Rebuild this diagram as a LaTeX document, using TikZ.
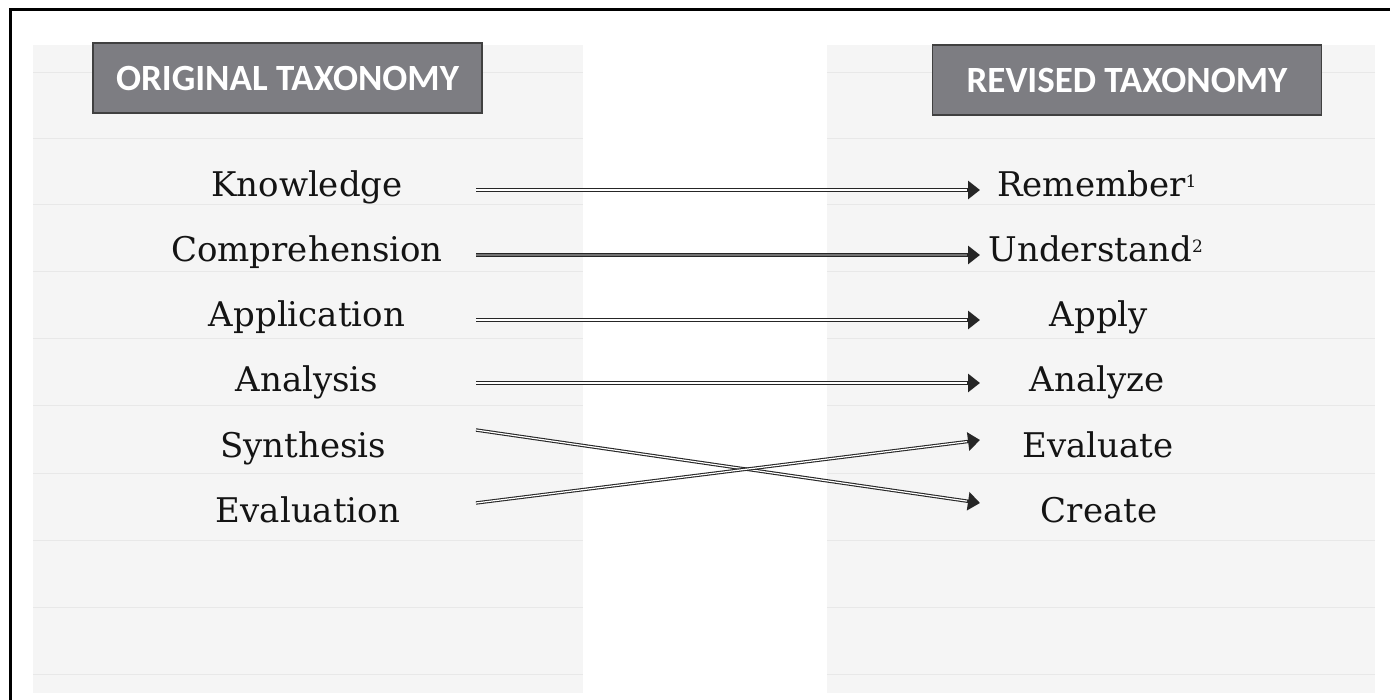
\documentclass[tikz,border=0pt]{standalone}
\usepackage{fontspec}
\setmainfont{DejaVu Serif}
\newfontfamily\headfont{Carlito}
\usetikzlibrary{arrows.meta,calc}

\newcommand\supnum[1]{\textsuperscript{\fontsize{17}{17}\selectfont #1}}

\begin{document}
\begin{tikzpicture}[x=1pt,y=-1pt,
  panel/.style={fill=black!4},
  ruling/.style={draw=black!9,line width=1pt},
  headbox/.style={fill=black!50!white!98!blue,draw=black!75,line width=1.5pt,
    minimum width=389pt,minimum height=70pt,inner sep=0pt,
    text=white,font=\headfont\bfseries\fontsize{37}{40}\selectfont},
  term/.style={anchor=base,inner sep=0pt,font=\fontsize{34}{38}\selectfont,text=black!92},
  arr/.style={draw=black!85,line width=3.4pt,
    -{Triangle[length=12pt,width=18pt]},
    postaction={draw=white,line width=1.2pt,shorten >=13pt,-}},
  grayarr/.style={arr,postaction={draw=black!55,line width=1.6pt,shorten >=13pt,-}}]
  \useasboundingbox (0,0) rectangle (1390,700);
  \fill[white] (0,0) rectangle (1390,700);
  % panels
  \fill[panel] (33,45) rectangle (583,693);
  \fill[panel] (827,45) rectangle (1375,693);
  \foreach \y in {73,139,205,272,339,406,473,540,607,674}{
    \draw[ruling] (33,\y) -- (583,\y);
    \draw[ruling] (827,\y) -- (1375,\y);
  }
  % frame
  \draw[line width=3pt] (1390,10) -| (10,700);
  % headings
  \node[headbox] (orig) at (287.5,78) {ORIGINAL TAXONOMY};
  \node[headbox] (rev) at (1127,80) {REVISED TAXONOMY};
  % original terms
  \node[term] (kn) at (307,197) {Knowledge};
  \node[term] (co) at (307,262) {Comprehension};
  \node[term] (ap) at (307,327) {Application};
  \node[term] (an) at (307,392) {Analysis};
  \node[term] (sy) at (303,457) {Synthesis};
  \node[term] (ev) at (308,522) {Evaluation};
  % revised terms
  \node[term] (re) at (1097,197) {Remember\supnum{1}};
  \node[term] (un) at (1096,262) {Understand\supnum{2}};
  \node[term] (apl) at (1099,327) {Apply};
  \node[term] (anz) at (1097,392) {Analyze};
  \node[term] (eva) at (1098,457) {Evaluate};
  \node[term] (cr) at (1099,522) {Create};
  % arrow ends
  \coordinate (xs) at (476,0);
  \coordinate (xe) at (980,0);
  \draw[arr] ($(xs |- kn.base)+(0,-7)$) -- ($(xe |- re.base)+(0,-7)$);
  \draw[grayarr] ($(xs |- co.base)+(0,-7)$) -- ($(xe |- un.base)+(0,-7)$);
  \draw[arr] ($(xs |- ap.base)+(0,-7)$) -- ($(xe |- apl.base)+(0,-7)$);
  \draw[arr] ($(xs |- an.base)+(0,-9)$) -- ($(xe |- anz.base)+(0,-9)$);
  \draw[arr] ($(xs |- sy.base)+(0,-27)$) -- ($(xe |- cr.base)+(0,-19)$); % crossing
  \draw[arr] ($(xs |- ev.base)+(0,-19)$) -- ($(xe |- eva.base)+(0,-17)$);
\end{tikzpicture}
\end{document}
